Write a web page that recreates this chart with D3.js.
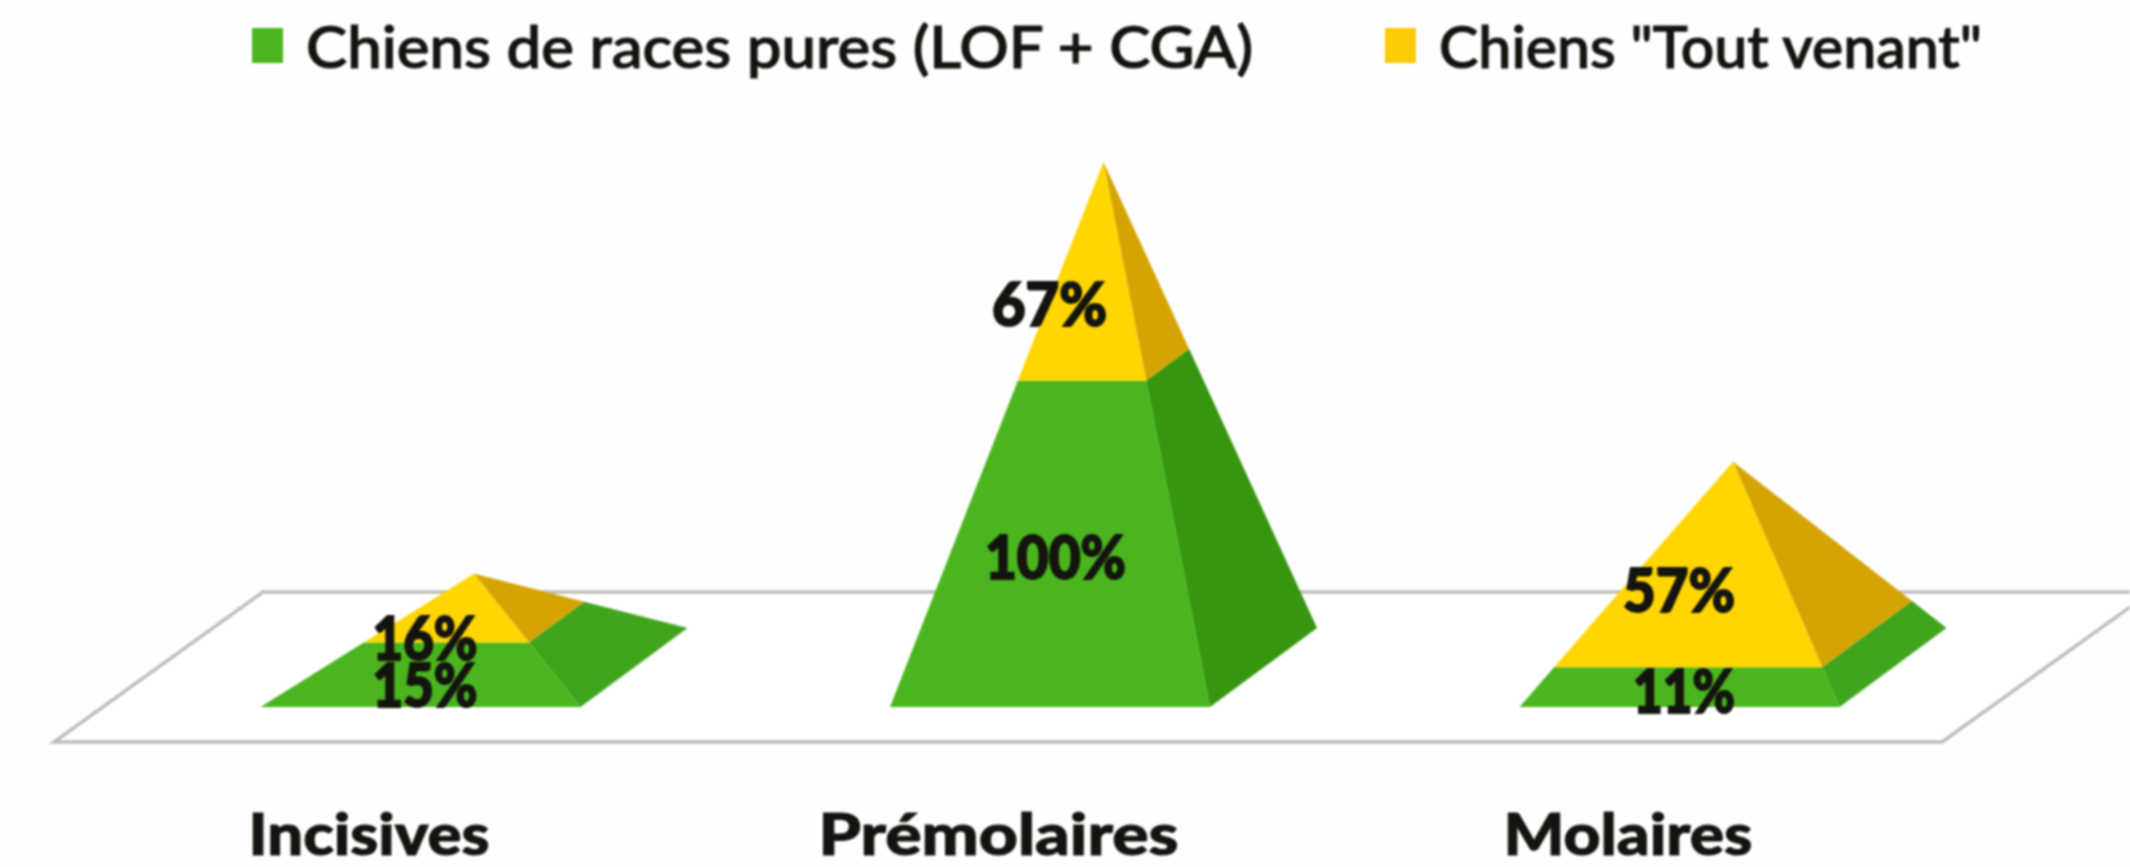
<!DOCTYPE html>
<html>
<head>
<meta charset="utf-8">
<script src="https://cdn.jsdelivr.net/npm/d3@7"></script>
<style>
    html, body { margin: 0; padding: 0; background: #fefefe; overflow: hidden; }
    svg { display: block; filter: blur(1.2px); }
    text { font-family: Lato, "Open Sans", sans-serif; fill: #14140f; stroke: #14140f; }
</style>
</head>
<body>
<div class="chart"></div>
<script>
let categories = ["Incisives", "Prémolaires", "Molaires"];
let pureValues = [15, 100, 11];
let mixedValues = [16, 67, 57];
let seriesNames = ["Chiens de races pures (LOF + CGA)", "Chiens \"Tout venant\""];

let svgWidth = 2130;
let svgHeight = 867;

// colours: front face, then right face per pyramid
let greenFront = "#4bb51f";
let greenSide = ["#3fa51c", "#36960f", "#3fa51c"];
let yellowFront = "#ffd602";
let yellowSide = "#d5a403";

// the pyramids are all the same footprint, seen from the same angle
let baseWidth = 320;
let depth = { x: 107, y: -79 };
let frontY = 707;

let svg = d3.select(".chart")
    .append("svg")
    .attr("width", svgWidth)
    .attr("height", svgHeight);

let xScale = d3.scalePoint()
    .domain(categories)
    .range([474, 1733]);

// height above the centre of the base
let yScale = d3.scaleLinear()
    .domain([0, 167])
    .range([frontY + depth.y / 2, 162]);

let line = d3.line().curve(d3.curveLinearClosed);

// floor
let floorBack = 592, floorFront = 742;
svg.append("path")
    .attr("d", line([[54, floorFront], [1942, floorFront], [2151, floorBack], [263, floorBack]]))
    .attr("fill", "#ffffff")
    .attr("stroke", "#bdbdb8")
    .attr("stroke-width", 3.5);

function mix(a, b, t) {
    return [a[0] + (b[0] - a[0]) * t, a[1] + (b[1] - a[1]) * t];
}

categories.forEach(function (cat, i) {
    let cx = xScale(cat);
    let total = pureValues[i] + mixedValues[i];
    let apex = [cx, yScale(total)];

    let left = cx - baseWidth / 2 - depth.x / 2;
    let frontLeft = [left, frontY];
    let frontRight = [left + baseWidth, frontY];
    let backRight = [left + baseWidth + depth.x, frontY + depth.y];

    let t = pureValues[i] / total;
    let midLeft = mix(frontLeft, apex, t);
    let midFront = mix(frontRight, apex, t);
    let midBack = mix(backRight, apex, t);

    let faces = [
        { pts: [frontRight, backRight, midBack, midFront], fill: greenSide[i] },
        { pts: [frontLeft, frontRight, midFront, midLeft], fill: greenFront },
        { pts: [midFront, midBack, apex], fill: yellowSide },
        { pts: [midLeft, midFront, apex], fill: yellowFront }
    ];

    svg.append("g")
        .selectAll("path")
        .data(faces)
        .enter()
        .append("path")
        .attr("d", d => line(d.pts))
        .attr("fill", d => d.fill);
});

// value labels, placed by hand like in the print layout
let pureLabelY = [707, 579, 713];
let pureLabelX = [-49, -48, -49];
let pureLabelW = [105, 141, 102];
let mixedLabelY = [660, 326, 612];
let mixedLabelX = [-49, -54, -54];
let mixedLabelW = [105, 115, 112];

function valueLabel(cat, value, x, y, w) {
    svg.append("text")
        .attr("x", xScale(cat) + x)
        .attr("y", y)
        .attr("text-anchor", "middle")
        .attr("font-size", 60)
        .attr("font-weight", 900)
        .attr("stroke-width", 2)
        .attr("textLength", w)
        .attr("lengthAdjust", "spacingAndGlyphs")
        .text(value + "%");
}

categories.forEach(function (cat, i) {
    valueLabel(cat, mixedValues[i], mixedLabelX[i], mixedLabelY[i], mixedLabelW[i]);
    valueLabel(cat, pureValues[i], pureLabelX[i], pureLabelY[i], pureLabelW[i]);
});

// category names
let catLabelW = [241, 360, 249];
svg.selectAll(".cat")
    .data(categories)
    .enter()
    .append("text")
    .attr("class", "cat")
    .attr("x", d => xScale(d) - 105)
    .attr("y", 855)
    .attr("text-anchor", "middle")
    .attr("font-size", 58)
    .attr("font-weight", 900)
    .attr("stroke-width", 1)
    .attr("textLength", (d, i) => catLabelW[i])
    .attr("lengthAdjust", "spacingAndGlyphs")
    .text(d => d);

// legend
let legendX = [252, 1385];
let legendTextX = [306, 1439];
let legendTextW = [947, 543];
let legendColors = [greenFront, "#fdcb07"];

seriesNames.forEach(function (name, i) {
    svg.append("rect")
        .attr("x", legendX[i])
        .attr("y", 28)
        .attr("width", 31)
        .attr("height", 35)
        .attr("fill", legendColors[i]);

    svg.append("text")
        .attr("x", legendTextX[i])
        .attr("y", 68)
        .attr("font-size", 58)
        .attr("font-weight", 500)
        .attr("stroke-width", 1.2)
        .attr("textLength", legendTextW[i])
        .attr("lengthAdjust", "spacingAndGlyphs")
        .text(name);
});
</script>
</body>
</html>
